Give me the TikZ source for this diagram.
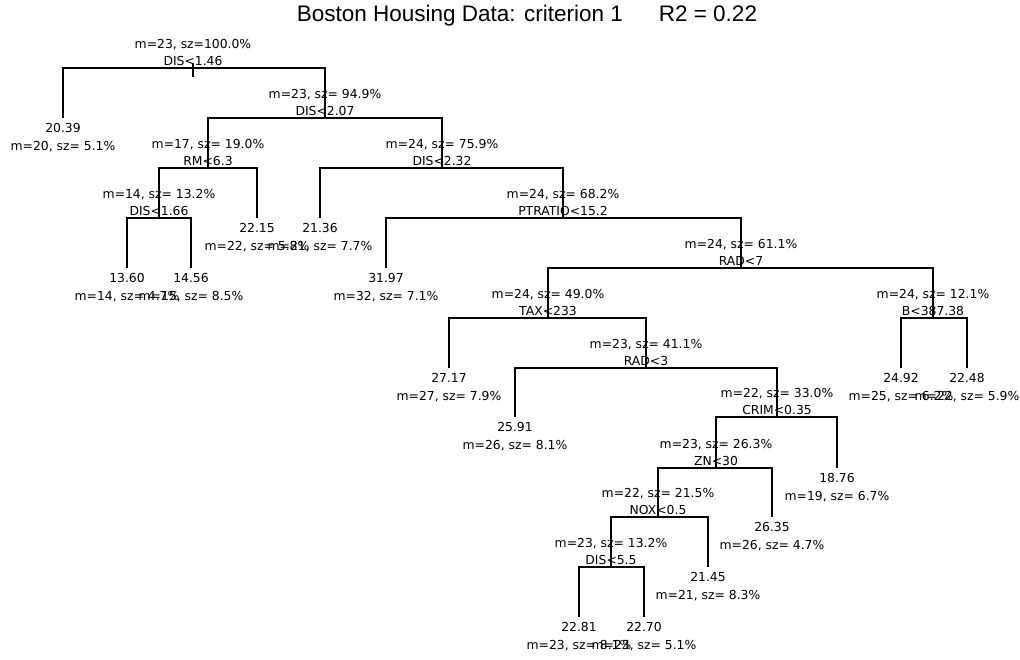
\documentclass[tikz,border=0pt]{standalone}
\usepackage{fontspec}
\setmainfont{DejaVu Sans}
\newfontfamily\titlefont{Liberation Sans}

\begin{document}
\begin{tikzpicture}[x=0.025cm,y=-0.025cm,line width=0.9pt]
    % Use a small sans-serif font for all labels
    \tikzstyle{every node}=[font=\fontsize{8.8}{12}\selectfont, inner sep=0pt]
    \tikzstyle{splitlabel}=[align=center, anchor=south, inner sep=1.5pt]

    % Fix the page to the size of the plot
    \useasboundingbox (0,0) rectangle (1020,659);

    % Title
    \node[font=\titlefont\fontsize{16}{18}\selectfont] (title) at (527,16)
        {Boston Housing Data: criterion 1\hspace{1.6em}R2 = 0.22};

    % Split points (centre of each bar)
    \coordinate (n0) at (193,68);
    \coordinate (n1) at (325,118);
    \coordinate (n2) at (208,168);
    \coordinate (n3) at (159,218);
    \coordinate (n4) at (442,168);
    \coordinate (n5) at (563,218);
    \coordinate (n6) at (741,268);
    \coordinate (n7) at (548,318);
    \coordinate (n8) at (646,368);
    \coordinate (n9) at (777,417);
    \coordinate (n10) at (716,468);
    \coordinate (n11) at (658,517);
    \coordinate (n12) at (611,567);
    \coordinate (n13) at (933,318);

    % Label the splits above their bars
    \node[splitlabel] (s0) at (n0) {m=23, sz=100.0\%\\DIS<1.46};
    \node[splitlabel] (s1) at (n1) {m=23, sz= 94.9\%\\DIS<2.07};
    \node[splitlabel] (s2) at (n2) {m=17, sz= 19.0\%\\RM<6.3};
    \node[splitlabel] (s3) at (n3) {m=14, sz= 13.2\%\\DIS<1.66};
    \node[splitlabel] (s4) at (n4) {m=24, sz= 75.9\%\\DIS<2.32};
    \node[splitlabel] (s5) at (n5) {m=24, sz= 68.2\%\\PTRATIO<15.2};
    \node[splitlabel] (s6) at (n6) {m=24, sz= 61.1\%\\RAD<7};
    \node[splitlabel] (s7) at (n7) {m=24, sz= 49.0\%\\TAX<233};
    \node[splitlabel] (s8) at (n8) {m=23, sz= 41.1\%\\RAD<3};
    \node[splitlabel] (s9) at (n9) {m=22, sz= 33.0\%\\CRIM<0.35};
    \node[splitlabel] (s10) at (n10) {m=23, sz= 26.3\%\\ZN<30};
    \node[splitlabel] (s11) at (n11) {m=22, sz= 21.5\%\\NOX<0.5};
    \node[splitlabel] (s12) at (n12) {m=23, sz= 13.2\%\\DIS<5.5};
    \node[splitlabel] (s13) at (n13) {m=24, sz= 12.1\%\\B<387.38};

    % Leaves: tip of the branch, mean below it, then size
    \foreach \n/\x/\y/\v/\s in {
        1/63/118/20.39/{m=20, sz= 5.1\%},
        2/127/268/13.60/{m=14, sz= 4.7\%},
        3/191/268/14.56/{m=15, sz= 8.5\%},
        4/257/218/22.15/{m=22, sz= 5.8\%},
        5/320/218/21.36/{m=21, sz= 7.7\%},
        6/386/268/31.97/{m=32, sz= 7.1\%},
        7/449/368/27.17/{m=27, sz= 7.9\%},
        8/515/417/25.91/{m=26, sz= 8.1\%},
        9/579/617/22.81/{m=23, sz= 8.1\%},
        10/644/617/22.70/{m=23, sz= 5.1\%},
        11/708/567/21.45/{m=21, sz= 8.3\%},
        12/772/517/26.35/{m=26, sz= 4.7\%},
        13/837/468/18.76/{m=19, sz= 6.7\%},
        14/901/368/24.92/{m=25, sz= 6.2\%},
        15/967/368/22.48/{m=22, sz= 5.9\%}} {
        \coordinate (t\n) at (\x,\y);
        \node (v\n) at (\x,\y+10) {\v};
        \node (z\n) at (\x,\y+29) {\s};
    }

    % Stem through the root
    \coordinate (stemtop) at (193,63);
    \coordinate (stembot) at (193,77);
    \draw (stemtop) -- (stembot);

    % Draw the branches: down from each bar to its two children
    \draw (t1) |- (n0) -| (n1);
    \draw (n2) |- (n1) -| (n4);
    \draw (n3) |- (n2) -| (t4);
    \draw (t2) |- (n3) -| (t3);
    \draw (t5) |- (n4) -| (n5);
    \draw (t6) |- (n5) -| (n6);
    \draw (n7) |- (n6) -| (n13);
    \draw (t7) |- (n7) -| (n8);
    \draw (t8) |- (n8) -| (n9);
    \draw (n10) |- (n9) -| (t13);
    \draw (n11) |- (n10) -| (t12);
    \draw (n12) |- (n11) -| (t11);
    \draw (t9) |- (n12) -| (t10);
    \draw (t14) |- (n13) -| (t15);

\end{tikzpicture}
\end{document}
